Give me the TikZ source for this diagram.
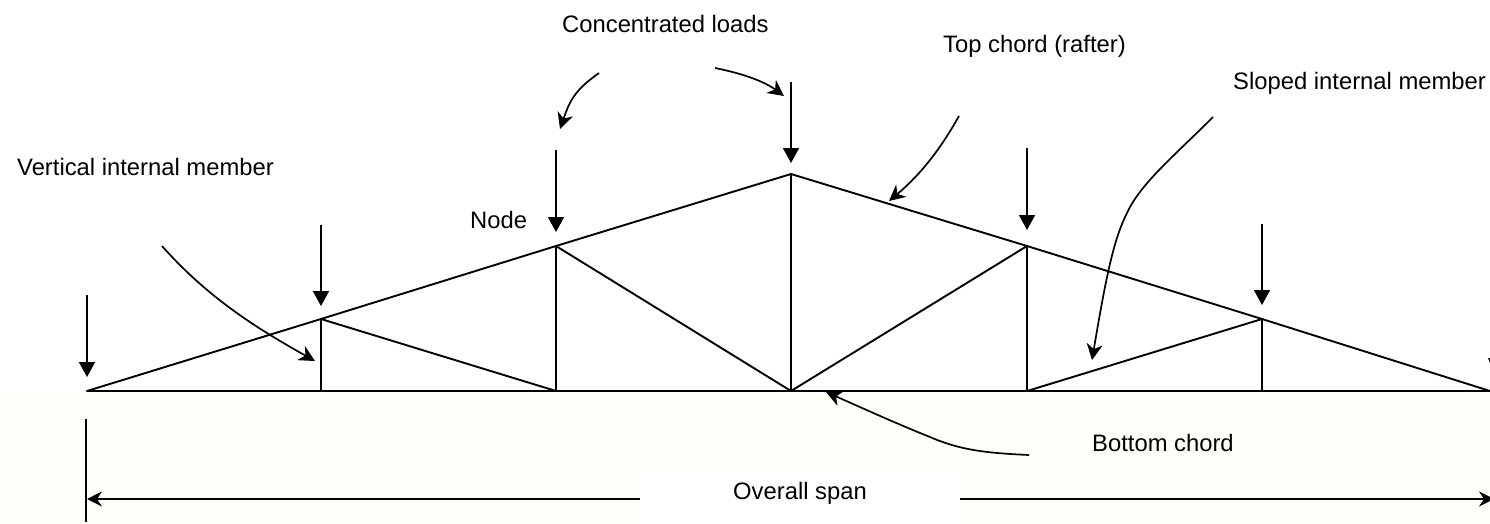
\documentclass[tikz,border=0pt]{standalone}
\usepackage{fontspec}
\setmainfont{Liberation Sans}
\usetikzlibrary{arrows.meta}
\definecolor{cream}{HTML}{FFFFFA}
\tikzset{
  chord/.style={line width=1.9pt,line cap=round},
  load/.style={line width=1.7pt,-{Stealth[length=15pt,width=16pt,inset=0pt]}},
  pointer/.style={line width=1.7pt,-{Stealth[length=16pt,width=16pt,inset=5pt]}},
  dim/.style={line width=1.5pt,-{Stealth[length=15pt,width=15pt,inset=5pt]}},
  label/.style={inner sep=0pt,font=\fontsize{23.8}{27}\selectfont,anchor=base west}
}
\begin{document}
\begin{tikzpicture}[x=1pt,y=-1pt]
\useasboundingbox (0,0) rectangle (1490,523);
\fill[cream] (0,397) rectangle (1490,523);
\fill[white] (640,468) rectangle (960,523);
% joints
\coordinate (a) at (87,391);
\coordinate (b) at (321,391);
\coordinate (c) at (556,391);
\coordinate (d) at (791,391);
\coordinate (e) at (1027,391);
\coordinate (f) at (1262,391);
\coordinate (g) at (1490,391);
\coordinate (bt) at (321,319);
\coordinate (ct) at (556,246);
\coordinate (dt) at (791,174);
\coordinate (et) at (1027,246);
\coordinate (ft) at (1262,319);
% chords
\draw[chord] (a) -- (g);
\draw[chord] (a) -- (bt) -- (ct) -- (dt) -- (et) -- (ft) -- (g);
% internal members
\draw[chord] (b) -- (bt);
\draw[chord] (c) -- (ct);
\draw[chord] (d) -- (dt);
\draw[chord] (e) -- (et);
\draw[chord] (f) -- (ft);
\draw[chord] (bt) -- (c);
\draw[chord] (ct) -- (d);
\draw[chord] (et) -- (d);
\draw[chord] (ft) -- (e);
% loads
\coordinate (l1) at (87,295);   \coordinate (l1e) at (87,377);
\coordinate (l2) at (321,225);  \coordinate (l2e) at (321,306);
\coordinate (l3) at (556,150);  \coordinate (l3e) at (556,232);
\coordinate (l4) at (791,82);   \coordinate (l4e) at (791,163);
\coordinate (l5) at (1027,148); \coordinate (l5e) at (1027,230);
\coordinate (l6) at (1262,224); \coordinate (l6e) at (1262,305);
\draw[load] (l1) -- (l1e);
\draw[load] (l2) -- (l2e);
\draw[load] (l3) -- (l3e);
\draw[load] (l4) -- (l4e);
\draw[load] (l5) -- (l5e);
\draw[load] (l6) -- (l6e);
% stray tip at the right edge
\fill (1488,358) -- (1490,358) -- (1490,363) -- cycle;
% labels
\node[label] (conc) at (562,32) {Concentrated loads};
\node[label] (top) at (943,52) {Top chord (rafter)};
\node[label] (slope) at (1233,89) {Sloped internal member};
\node[label] (vert) at (17,175) {Vertical internal member};
\node[label] (nodelab) at (470,228) {Node};
\node[label] (bottom) at (1092,451) {Bottom chord};
\node[label] (span) at (733,499) {Overall span};
% pointers
\coordinate (p1) at (599,73);   \coordinate (p1e) at (560,129);
\coordinate (p2) at (715,68);   \coordinate (p2e) at (784,96);
\coordinate (p3) at (959,116);  \coordinate (p3e) at (889,201);
\coordinate (p4) at (1213,117); \coordinate (p4e) at (1092,360);
\coordinate (p5) at (162,246);  \coordinate (p5e) at (315,361);
\coordinate (p6) at (1029,455); \coordinate (p6e) at (826,392);
\draw[pointer] (p1) .. controls (575,90) and (570,100) .. (p1e);
\draw[pointer] (p2) .. controls (745,74) and (765,82) .. (p2e);
\draw[pointer] (p3) .. controls (940,150) and (920,175) .. (p3e);
\draw[pointer] (p4) .. controls (1175,155) and (1145,180) .. (1130,207) .. controls (1115,235) and (1108,265) .. (p4e);
\draw[pointer] (p5) .. controls (210,300) and (260,330) .. (p5e);
\draw[pointer] (p6) .. controls (985,453) and (960,450) .. (930,437) .. controls (895,423) and (860,407) .. (p6e);
% span
\coordinate (s0) at (86,419); \coordinate (s1) at (86,522);
\draw[line width=1.5pt] (s0) -- (s1);
\coordinate (sl) at (640,499); \coordinate (sle) at (87,499);
\coordinate (sr) at (960,499); \coordinate (sre) at (1494,499);
\draw[dim] (sl) -- (sle);
\draw[dim] (sr) -- (sre);
\end{tikzpicture}
\end{document}
